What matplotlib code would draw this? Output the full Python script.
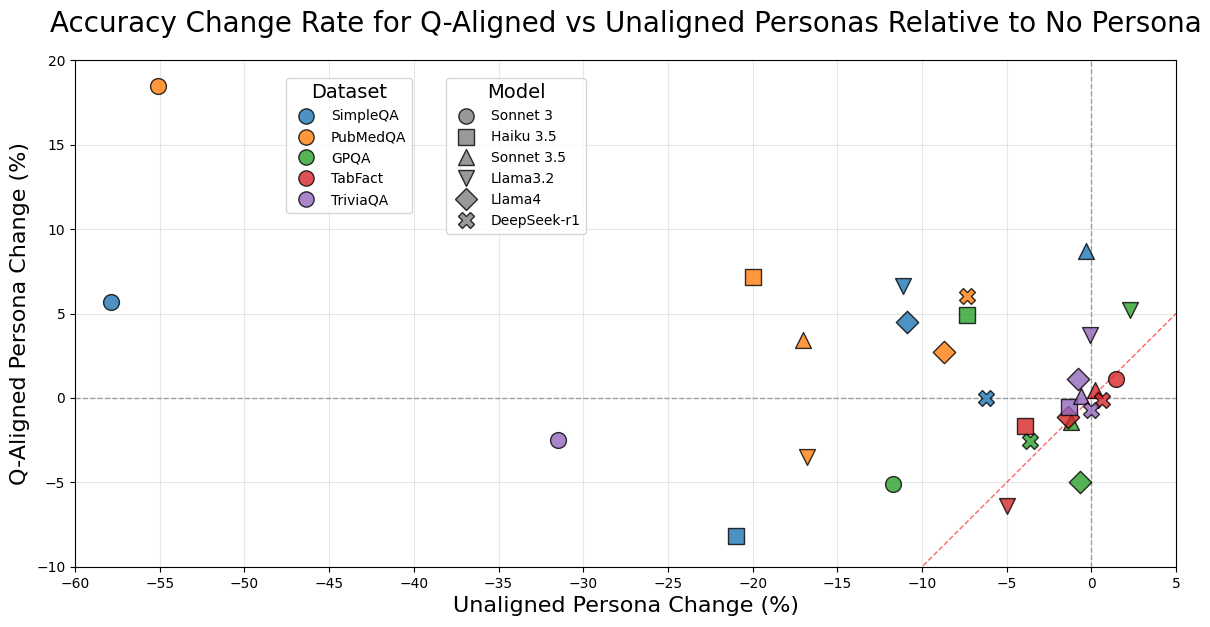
import matplotlib
matplotlib.use("Agg")
import matplotlib.pyplot as plt
from matplotlib.lines import Line2D

datasets = ["SimpleQA", "PubMedQA", "GPQA", "TabFact", "TriviaQA"]
models = ["Sonnet 3", "Haiku 3.5", "Sonnet 3.5", "Llama3.2", "Llama4", "DeepSeek-r1"]

# unaligned change (x) and q-aligned change (y), per dataset, in model order
unaligned = {
    "SimpleQA": [-57.9, -21.0, -0.3, -11.1, -10.9, -6.2],
    "PubMedQA": [-55.1, -20.0, -17.0, -16.8, -8.7, -7.35],
    "GPQA":     [-11.7, -7.35, -1.2, 2.25, -0.7, -3.65],
    "TabFact":  [1.45, -3.9, 0.2, -5.0, -1.4, 0.65],
    "TriviaQA": [-31.5, -1.35, -0.6, -0.1, -0.8, 0.0],
}
aligned = {
    "SimpleQA": [5.7, -8.2, 8.7, 6.6, 4.5, 0.0],
    "PubMedQA": [18.5, 7.15, 3.45, -3.5, 2.7, 6.05],
    "GPQA":     [-5.1, 4.9, -1.4, 5.2, -5.0, -2.55],
    "TabFact":  [1.1, -1.65, 0.45, -6.4, -1.1, -0.1],
    "TriviaQA": [-2.5, -0.55, 0.1, 3.75, 1.1, -0.7],
}

colors = ["#1f77b4", "#ff7f0e", "#2ca02c", "#d62728", "#9467bd"]
markers = ["o", "s", "^", "v", "D", "X"]

fig, ax = plt.subplots(figsize=(12.1, 6.27), dpi=100)
fig.subplots_adjust(left=0.062, right=0.972, top=0.904, bottom=0.096)

ax.axhline(0, color="gray", linestyle="--", alpha=0.7, linewidth=1)
ax.axvline(0, color="gray", linestyle="--", alpha=0.7, linewidth=1)
ax.plot([-60, 5], [-60, 5], color="red", linestyle="--", alpha=0.6, linewidth=1)

for d, c in zip(datasets, colors):
    for j, m in enumerate(markers):
        ax.scatter(unaligned[d][j], aligned[d][j], marker=m, s=130, color=c,
                   alpha=0.8, edgecolors="black", linewidths=1, zorder=3)

ax.set_xlim(-60, 5)
ax.set_ylim(-10, 20)
ax.set_xticks(range(-60, 6, 5))
ax.set_yticks(range(-10, 21, 5))
ax.grid(True, alpha=0.3)
ax.set_xlabel("Unaligned Persona Change (%)", fontsize=16)
ax.set_ylabel("Q-Aligned Persona Change (%)", fontsize=16)
ax.set_title("Accuracy Change Rate for Q-Aligned vs Unaligned Personas Relative to No Persona",
             fontsize=20, pad=20)

ds_handles = [Line2D([0], [0], marker="o", linestyle="", markersize=11, markerfacecolor=c,
                     markeredgecolor="black", alpha=0.8, label=d)
              for d, c in zip(datasets, colors)]
md_handles = [Line2D([0], [0], marker=m, linestyle="", markersize=11, markerfacecolor="gray",
                     markeredgecolor="black", alpha=0.8, label=n)
              for n, m in zip(models, markers)]

leg1 = ax.legend(handles=ds_handles, title="Dataset", loc="upper left",
                 bbox_to_anchor=(0.192, 0.965), borderaxespad=0, fontsize=10,
                 title_fontsize=14)
ax.add_artist(leg1)
ax.legend(handles=md_handles, title="Model", loc="upper left",
          bbox_to_anchor=(0.337, 0.965), borderaxespad=0, fontsize=10,
          title_fontsize=14)

fig.savefig("out.png", dpi=100)
